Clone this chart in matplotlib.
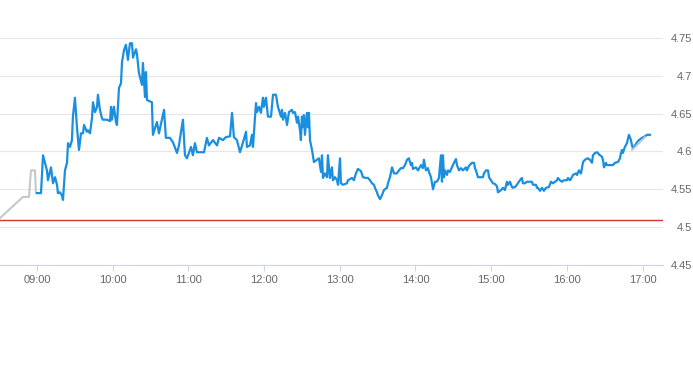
import matplotlib
matplotlib.use("Agg")
import matplotlib.pyplot as plt

# minutes after 09:00 and price
pre_minutes = [-29.3, -11.1, -6.3, -4.8, -1.6, -0.8, 0.0]
pre_prices = [4.512, 4.540, 4.540, 4.575, 4.575, 4.545, 4.545]

minutes = [
    0.0, 3.2, 4.8, 7.9, 8.7, 11.1, 12.7, 14.3, 15.9, 16.6, 18.2, 19.8, 20.6, 22.2, 23.8, 24.6,
    26.2, 27.7, 28.5, 30.1, 31.7, 33.3, 34.9, 36.5, 37.3, 39.6, 40.4, 42.0, 43.6, 44.4, 46.0,
    47.6, 48.3, 49.9, 51.5, 52.3, 55.5, 57.9, 58.7, 59.4, 61.0, 62.6, 63.4, 65.0, 66.6, 67.4,
    69.0, 70.5, 72.1, 73.7, 75.3, 76.1, 78.5, 79.3, 80.8, 83.2, 84.0, 85.6, 86.4, 87.2, 91.1,
    91.9, 95.1, 96.7, 100.7, 102.2, 105.4, 107.8, 111.0, 112.5, 115.7, 117.3, 118.9, 122.1,
    123.6, 125.2, 126.8, 132.4, 134.7, 136.3, 139.5, 142.7, 144.3, 147.4, 149.8, 153.0, 154.6,
    156.1, 158.5, 160.9, 163.3, 165.7, 166.4, 168.8, 170.4, 171.2, 173.6, 174.4, 176.0, 177.5,
    179.1, 179.9, 181.5, 183.1, 185.5, 187.1, 189.4, 191.0, 193.4, 194.2, 195.0, 196.6, 198.2,
    199.7, 202.1, 202.9, 204.5, 206.1, 206.9, 208.5, 209.2, 210.0, 210.8, 211.6, 212.4, 214.0,
    214.8, 215.6, 216.4, 218.0, 219.5, 221.9, 223.5, 225.1, 225.9, 226.7, 228.3, 229.9, 230.6,
    232.2, 233.8, 234.6, 236.2, 237.8, 238.6, 240.2, 240.9, 242.5, 245.7, 246.5, 249.7, 251.2,
    252.8, 254.4, 256.8, 258.4, 260.8, 262.4, 263.9, 265.5, 267.1, 267.9, 269.5, 270.3, 271.9,
    273.4, 275.0, 277.4, 278.2, 279.8, 281.4, 283.0, 285.3, 286.9, 288.5, 290.1, 291.7, 293.3,
    294.8, 296.4, 297.2, 298.0, 300.4, 302.0, 304.4, 305.9, 306.7, 308.3, 309.9, 310.7, 312.3,
    313.9, 315.5, 317.0, 318.6, 320.2, 321.0, 321.8, 322.6, 323.4, 325.0, 325.8, 327.3, 328.9,
    329.7, 330.5, 332.1, 332.9, 334.5, 336.1, 337.6, 340.0, 340.8, 342.4, 344.8, 346.4, 347.2,
    348.7, 349.5, 353.5, 354.3, 355.9, 357.5, 358.3, 359.8, 361.4, 363.0, 364.6, 365.4, 367.8,
    369.4, 370.9, 372.5, 373.3, 374.9, 376.5, 377.3, 378.9, 380.4, 381.2, 382.8, 384.4, 385.2,
    386.8, 388.4, 392.3, 393.1, 395.5, 396.3, 397.1, 398.7, 400.3, 401.8, 403.4, 405.8, 407.4,
    409.0, 410.6, 412.2, 412.9, 414.5, 416.1, 417.7, 420.1, 420.9, 422.5, 424.0, 424.8, 427.2,
    428.0, 429.6, 431.2, 432.8, 434.3, 436.7, 438.3, 439.9, 440.7, 442.3, 443.9, 446.2, 447.8,
    448.6, 449.4, 451.0, 451.8, 456.5, 458.1, 460.5, 462.1, 462.9, 463.7, 464.4, 466.0, 467.6,
    469.2, 470.8, 471.6, 472.4, 474.0, 475.6, 477.1, 479.5, 481.9, 483.5, 485.8,
]
prices = [
    4.545, 4.545, 4.595, 4.575, 4.562, 4.579, 4.558, 4.566, 4.556, 4.545, 4.546, 4.542, 4.536,
    4.575, 4.585, 4.611, 4.606, 4.615, 4.646, 4.671, 4.632, 4.602, 4.624, 4.624, 4.635, 4.626,
    4.628, 4.624, 4.644, 4.665, 4.652, 4.659, 4.675, 4.655, 4.644, 4.642, 4.642, 4.640, 4.659,
    4.642, 4.659, 4.639, 4.635, 4.684, 4.690, 4.718, 4.734, 4.741, 4.721, 4.743, 4.743, 4.724,
    4.735, 4.728, 4.704, 4.688, 4.717, 4.672, 4.705, 4.668, 4.665, 4.622, 4.639, 4.624, 4.655,
    4.618, 4.618, 4.612, 4.598, 4.608, 4.642, 4.595, 4.591, 4.606, 4.595, 4.611, 4.599, 4.599,
    4.618, 4.608, 4.615, 4.608, 4.618, 4.615, 4.619, 4.620, 4.651, 4.619, 4.615, 4.599, 4.612,
    4.626, 4.606, 4.608, 4.622, 4.606, 4.664, 4.652, 4.659, 4.651, 4.671, 4.659, 4.671, 4.646,
    4.646, 4.675, 4.675, 4.659, 4.646, 4.655, 4.642, 4.651, 4.635, 4.652, 4.655, 4.651, 4.652,
    4.638, 4.646, 4.628, 4.615, 4.646, 4.632, 4.648, 4.622, 4.651, 4.632, 4.651, 4.615, 4.602,
    4.586, 4.589, 4.591, 4.573, 4.595, 4.565, 4.571, 4.566, 4.595, 4.565, 4.579, 4.562, 4.566,
    4.562, 4.556, 4.591, 4.558, 4.556, 4.558, 4.562, 4.565, 4.562, 4.571, 4.577, 4.574, 4.566,
    4.565, 4.565, 4.562, 4.558, 4.556, 4.552, 4.546, 4.542, 4.537, 4.542, 4.549, 4.552, 4.558,
    4.566, 4.579, 4.571, 4.571, 4.575, 4.578, 4.578, 4.582, 4.589, 4.591, 4.582, 4.585, 4.577,
    4.579, 4.575, 4.582, 4.578, 4.589, 4.575, 4.578, 4.573, 4.566, 4.550, 4.560, 4.560, 4.565,
    4.595, 4.560, 4.595, 4.566, 4.575, 4.569, 4.575, 4.573, 4.579, 4.582, 4.585, 4.590, 4.582,
    4.575, 4.578, 4.575, 4.579, 4.575, 4.581, 4.585, 4.585, 4.578, 4.571, 4.566, 4.566, 4.571,
    4.575, 4.575, 4.566, 4.562, 4.558, 4.557, 4.554, 4.546, 4.549, 4.552, 4.549, 4.560, 4.556,
    4.560, 4.553, 4.552, 4.553, 4.556, 4.558, 4.562, 4.565, 4.558, 4.558, 4.560, 4.560, 4.556,
    4.556, 4.552, 4.552, 4.548, 4.552, 4.548, 4.552, 4.553, 4.560, 4.558, 4.560, 4.562, 4.565,
    4.562, 4.560, 4.562, 4.562, 4.565, 4.562, 4.566, 4.569, 4.571, 4.569, 4.575, 4.571, 4.586,
    4.589, 4.591, 4.589, 4.585, 4.595, 4.598, 4.599, 4.595, 4.593, 4.589, 4.579, 4.585, 4.582,
    4.582, 4.585, 4.586, 4.591, 4.598, 4.602, 4.598, 4.606, 4.611, 4.622, 4.615, 4.608, 4.604,
    4.608, 4.612, 4.615, 4.618, 4.620, 4.622, 4.622,
]

post_minutes = [471.6, 474.8, 477.9, 481.9]
post_prices = [4.602, 4.607, 4.612, 4.619]

prev_close = 4.509

y_ticks = [4.45, 4.5, 4.55, 4.6, 4.65, 4.7, 4.75]
y_labels = ["4.45", "4.5", "4.55", "4.6", "4.65", "4.7", "4.75"]
x_ticks = [0, 60, 120, 180, 240, 300, 360, 420, 480]
x_labels = ["09:00", "10:00", "11:00", "12:00", "13:00", "14:00", "15:00", "16:00", "17:00"]

plt.rcParams["font.family"] = ["Liberation Sans", "DejaVu Sans"]

fig = plt.figure(figsize=(6.93, 3.65), dpi=100)
ax = fig.add_axes([0.0, 1 - 265 / 365, 663 / 693, 245 / 365])

ax.plot(pre_minutes, pre_prices, color="#c4c8cc", linewidth=1.5, zorder=3)
ax.plot(minutes, prices, color="#1a8fe0", linewidth=1.6, zorder=4)
ax.plot(post_minutes, post_prices, color="#b8c8d8", linewidth=1.5, alpha=0.9, zorder=5)
ax.axhline(prev_close, color="#d9342b", linewidth=1.0, zorder=2)

ax.set_xlim(-29.3, 496.2)
ax.set_ylim(4.45, 4.7737)

ax.set_yticks(y_ticks)
ax.set_yticklabels(y_labels)
ax.yaxis.tick_right()
ax.tick_params(axis="y", length=0, pad=21, labelsize=8, labelcolor="#666666")
for lbl in ax.get_yticklabels():
    lbl.set_horizontalalignment("right")

ax.set_xticks(x_ticks)
ax.set_xticklabels(x_labels)
ax.tick_params(axis="x", length=4.5, width=0.8, color="#ccd6eb", pad=3,
               labelsize=8, labelcolor="#666666")

ax.grid(axis="y", color="#e6e6e6", linewidth=0.8)
ax.set_axisbelow(True)
for side in ["top", "left", "right"]:
    ax.spines[side].set_visible(False)
ax.spines["bottom"].set_color("#ccd6eb")
ax.spines["bottom"].set_linewidth(0.8)

fig.savefig("out.png", dpi=100)
